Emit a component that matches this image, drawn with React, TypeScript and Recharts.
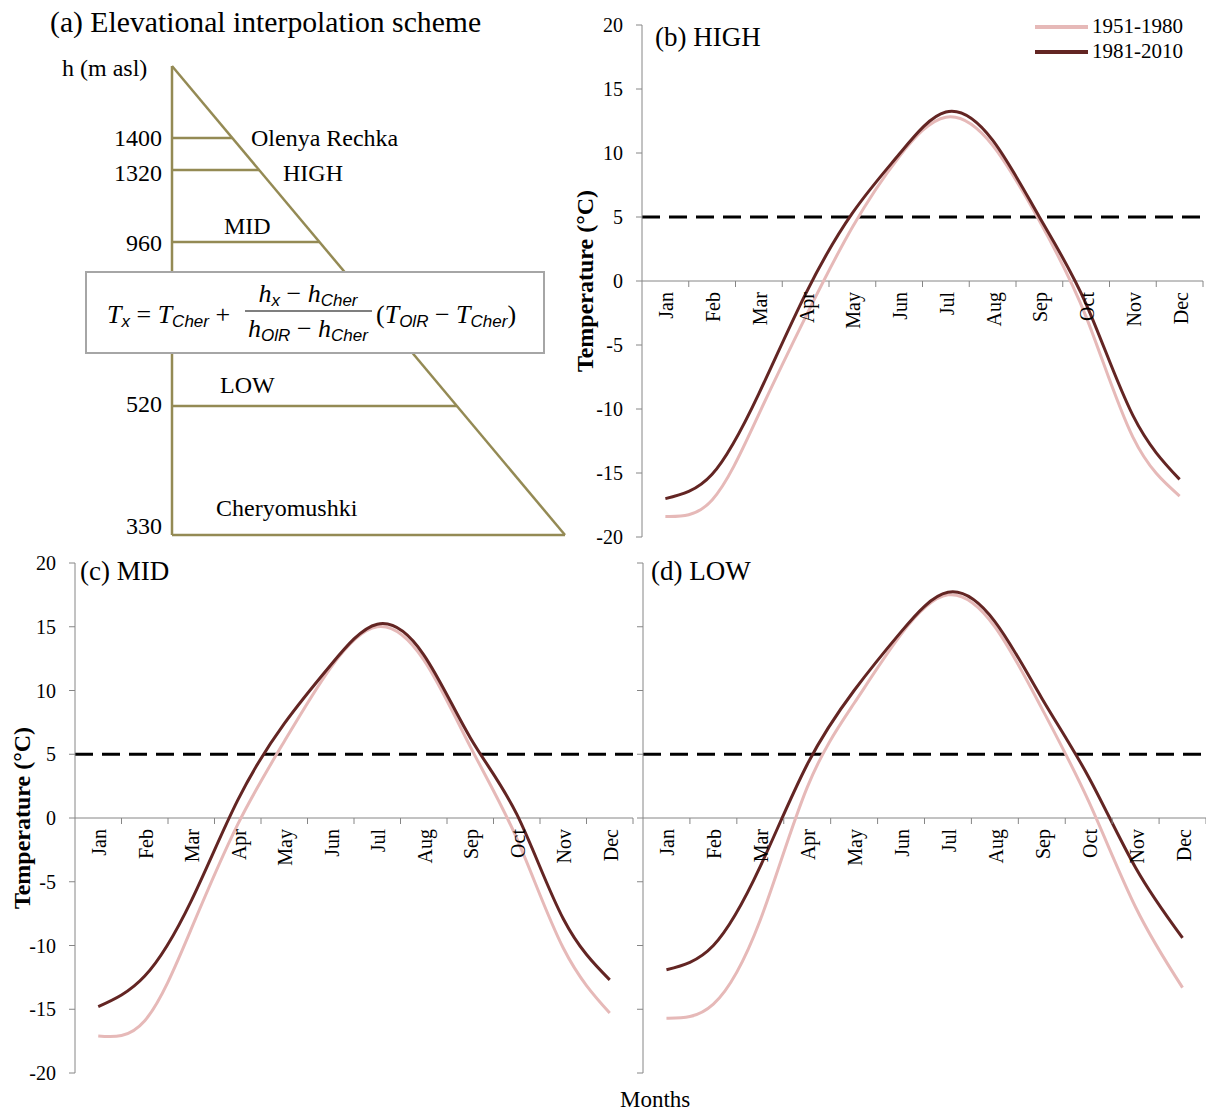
import React from "react";
import { LineChart, Line, XAxis, YAxis, ReferenceLine, Legend } from "recharts";

const months = ["Jan", "Feb", "Mar", "Apr", "May", "Jun", "Jul", "Aug", "Sep", "Oct", "Nov", "Dec"];
const yTicks = [-20, -15, -10, -5, 0, 5, 10, 15, 20];

// monthly mean temperature (°C)
const high1951 = [-18.4, -17.1, -10.4, -2.8, 4.2, 9.7, 12.8, 10.6, 4.7, -2.8, -12.2, -16.8];
const high1981 = [-17.0, -15.1, -8.8, -1.0, 5.3, 9.9, 13.2, 11.0, 5.0, -1.8, -10.5, -15.5];
const mid1951 = [-17.1, -15.9, -8.7, -0.5, 6.0, 11.8, 15.0, 12.4, 5.6, -1.6, -10.2, -15.3];
const mid1981 = [-14.8, -12.4, -6.5, 1.4, 7.4, 12.0, 15.2, 12.8, 6.3, 0.3, -7.9, -12.7];
const low1951 = [-15.7, -14.6, -8.0, 2.4, 9.0, 14.4, 17.5, 15.0, 8.6, 1.3, -7.0, -13.3];
const low1981 = [-11.9, -10.0, -3.8, 4.2, 10.0, 14.6, 17.7, 15.4, 9.4, 3.2, -3.9, -9.4];

const threshold = 5;
const elevations = ["1400", "1320", "960", "520", "330"];
const periods = ["1951-1980", "1981-2010"];

const FONT = '"Liberation Serif", "Times New Roman", serif';
const SANS = '"Liberation Sans", Arial, sans-serif';
const PINK = "#e6b9b8";
const DARK = "#632523";
const GRAY = "#868686";
const OLIVE = "#948a54";

function buildData(a: number[], b: number[]) {
  return months.map((m, i) => ({ month: m, early: a[i], late: b[i] }));
}

function makeTick(zeroY: number, band: number) {
  return (props: any) => {
    const { x, payload } = props;
    return (
      <g>
        <line x1={x + band / 2} y1={zeroY} x2={x + band / 2} y2={zeroY + 6} stroke={GRAY} strokeWidth={1} />
        <text
          transform={`translate(${x + 1},${zeroY + 11}) rotate(-90)`}
          textAnchor="end"
          dominantBaseline="central"
          fontFamily={FONT}
          fontSize={20}
          fill="#000"
        >
          {payload.value}
        </text>
      </g>
    );
  };
}

function renderLegend(props: any) {
  const items = props.payload || [];
  return (
    <div>
      {items.map((it: any, i: number) => (
        <div key={i} style={{ display: "flex", alignItems: "center", height: 25 }}>
          <div style={{ width: 53, height: 4, background: it.color, marginRight: 4 }} />
          <span style={{ fontFamily: FONT, fontSize: 21, color: "#000" }}>{it.value}</span>
        </div>
      ))}
    </div>
  );
}

function yTitle(cx: number) {
  return (props: any) => {
    const vb = props.viewBox;
    const cy = vb.y + vb.height / 2;
    return (
      <text
        transform={`translate(${cx},${cy}) rotate(-90)`}
        textAnchor="middle"
        dominantBaseline="central"
        fontFamily={FONT}
        fontWeight="bold"
        fontSize={24}
        fill="#000"
      >
        Temperature (°C)
      </text>
    );
  };
}

interface PanelProps {
  left: number;
  top: number;
  width: number;
  height: number;
  margin: { top: number; right: number; bottom: number; left: number };
  axisWidth: number;
  early: number[];
  late: number[];
  showLabels: boolean;
  titleX?: number;
  legend?: boolean;
}

function Panel(p: PanelProps) {
  const xH = 10;
  const plotH = p.height - p.margin.top - p.margin.bottom - xH;
  const plotW = p.width - p.margin.left - p.margin.right - p.axisWidth;
  const zeroY = p.margin.top + plotH / 2;
  const band = plotW / months.length;
  const data = buildData(p.early, p.late);
  return (
    <div style={{ position: "absolute", left: p.left, top: p.top }}>
      <LineChart width={p.width} height={p.height} data={data} margin={p.margin}>
        <XAxis
          dataKey="month"
          scale="band"
          height={xH}
          axisLine={false}
          tickLine={false}
          interval={0}
          tick={makeTick(zeroY, band)}
        />
        <YAxis
          type="number"
          domain={[-20, 20]}
          ticks={yTicks}
          interval={0}
          width={p.axisWidth}
          axisLine={{ stroke: GRAY, strokeWidth: 1 }}
          tickLine={{ stroke: GRAY, strokeWidth: 1 }}
          tickSize={6}
          tickMargin={13}
          tick={{ fill: "#000", fontSize: 20, fontFamily: FONT }}
          tickFormatter={(v: number) => (p.showLabels ? String(v) : "")}
          label={p.titleX !== undefined ? { content: yTitle(p.titleX) } : undefined}
        />
        <ReferenceLine y={0} stroke={GRAY} strokeWidth={1} />
        <ReferenceLine y={threshold} stroke="#000" strokeWidth={3} strokeDasharray="18 9" />
        {p.legend && (
          <Legend
            layout="horizontal"
            verticalAlign="middle"
            align="center"
            content={renderLegend}
            wrapperStyle={{ left: 475, top: 14, width: 170, height: 50 }}
          />
        )}
        <Line
          type="natural"
          dataKey="early"
          name={periods[0]}
          stroke={PINK}
          strokeWidth={3}
          dot={false}
          isAnimationActive={false}
        />
        <Line
          type="natural"
          dataKey="late"
          name={periods[1]}
          stroke={DARK}
          strokeWidth={3}
          dot={false}
          isAnimationActive={false}
        />
      </LineChart>
    </div>
  );
}

function Diagram() {
  const t = { fontFamily: FONT, fontSize: 24, fill: "#000" };
  const it = { fontFamily: FONT, fontSize: 26, fontStyle: "italic" as const };
  const sub = { fontFamily: SANS, fontSize: 17, fontStyle: "italic" as const };
  return (
    <svg width={580} height={545} style={{ position: "absolute", left: 0, top: 0 }}>
      <text x={50} y={32} fontFamily={FONT} fontSize={29.7} fill="#000">
        (a) Elevational interpolation scheme
      </text>
      <text x={62} y={76} {...t}>h (m asl)</text>
      <g stroke={OLIVE} strokeWidth={2.5} fill="none">
        <line x1={172} y1={66} x2={172} y2={535} />
        <line x1={172} y1={66} x2={565} y2={535} />
        <line x1={172} y1={535} x2={565} y2={535} />
        <line x1={172} y1={138} x2={232} y2={138} />
        <line x1={172} y1={170} x2={259} y2={170} />
        <line x1={172} y1={242} x2={319} y2={242} />
        <line x1={172} y1={406} x2={457} y2={406} />
      </g>
      <text x={162} y={146} textAnchor="end" {...t}>{elevations[0]}</text>
      <text x={162} y={181} textAnchor="end" {...t}>{elevations[1]}</text>
      <text x={162} y={251} textAnchor="end" {...t}>{elevations[2]}</text>
      <text x={162} y={412} textAnchor="end" {...t}>{elevations[3]}</text>
      <text x={162} y={534} textAnchor="end" {...t}>{elevations[4]}</text>
      <text x={251} y={146} {...t}>Olenya Rechka</text>
      <text x={283} y={181} {...t}>HIGH</text>
      <text x={224} y={234} {...t}>MID</text>
      <text x={220} y={393} {...t}>LOW</text>
      <text x={216} y={516} {...t}>Cheryomushki</text>
      <rect x={86} y={272} width={458} height={81} fill="#fff" stroke="#a6a6a6" strokeWidth={2} />
      <text x={107} y={323} {...it}>
        T<tspan {...sub} dy={4}>x</tspan>
        <tspan dy={-4} fontStyle="normal"> = </tspan>T<tspan {...sub} dy={4}>Cher</tspan>
        <tspan dy={-4} fontStyle="normal"> + </tspan>
      </text>
      <text x={308} y={302} textAnchor="middle" {...it}>
        h<tspan {...sub} dy={4}>x</tspan>
        <tspan dy={-4} fontStyle="normal"> − </tspan>h<tspan {...sub} dy={4}>Cher</tspan>
      </text>
      <line x1={245} y1={311} x2={372} y2={311} stroke="#000" strokeWidth={1.2} />
      <text x={308} y={337} textAnchor="middle" {...it}>
        h<tspan {...sub} dy={4}>OlR</tspan>
        <tspan dy={-4} fontStyle="normal"> − </tspan>h<tspan {...sub} dy={4}>Cher</tspan>
      </text>
      <text x={376} y={323} {...it}>
        <tspan fontStyle="normal">(</tspan>T<tspan {...sub} dy={4}>OlR</tspan>
        <tspan dy={-4} fontStyle="normal"> − </tspan>T<tspan {...sub} dy={4}>Cher</tspan>
        <tspan dy={-4} fontStyle="normal">)</tspan>
      </text>
    </svg>
  );
}

const titleStyle: React.CSSProperties = {
  position: "absolute",
  fontFamily: FONT,
  fontSize: 27,
  lineHeight: "30px",
  color: "#000",
  whiteSpace: "nowrap",
};

export default function App() {
  return (
    <div style={{ position: "absolute", left: 0, top: 0, width: 1206, height: 1113, background: "#fff", overflow: "hidden" }}>
      <Diagram />
      <Panel
        left={560}
        top={0}
        width={646}
        height={560}
        margin={{ top: 25, right: 3, bottom: 13, left: 0 }}
        axisWidth={82}
        early={high1951}
        late={high1981}
        showLabels={true}
        titleX={25}
        legend={true}
      />
      <Panel
        left={0}
        top={545}
        width={640}
        height={560}
        margin={{ top: 18, right: 7, bottom: 22, left: 0 }}
        axisWidth={75}
        early={mid1951}
        late={mid1981}
        showLabels={true}
        titleX={22}
      />
      <Panel
        left={600}
        top={545}
        width={606}
        height={560}
        margin={{ top: 18, right: 0, bottom: 22, left: 0 }}
        axisWidth={43}
        early={low1951}
        late={low1981}
        showLabels={false}
      />
      <div style={{ ...titleStyle, left: 655, top: 22 }}>(b) HIGH</div>
      <div style={{ ...titleStyle, left: 80, top: 556 }}>(c) MID</div>
      <div style={{ ...titleStyle, left: 651, top: 556 }}>(d) LOW</div>
      <div style={{ ...titleStyle, left: 620, top: 1085, fontSize: 23 }}>Months</div>
    </div>
  );
}
